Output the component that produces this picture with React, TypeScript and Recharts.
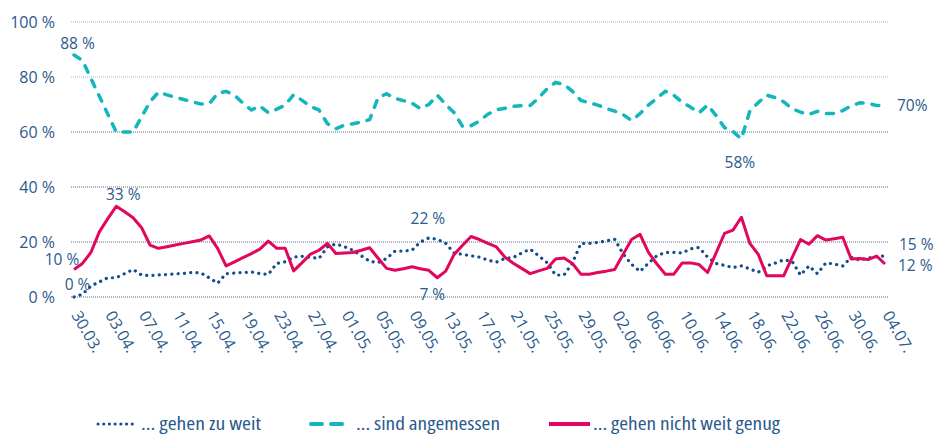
import React from 'react';
import { LineChart, Line, XAxis, YAxis, ReferenceLine, Legend, LabelList } from 'recharts';

const dates = [
  '30.03.', '31.03.',
  '01.04.', '02.04.', '03.04.', '04.04.', '05.04.', '06.04.', '07.04.', '08.04.', '09.04.', '10.04.',
  '11.04.', '12.04.', '13.04.', '14.04.', '15.04.', '16.04.', '17.04.', '18.04.', '19.04.', '20.04.',
  '21.04.', '22.04.', '23.04.', '24.04.', '25.04.', '26.04.', '27.04.', '28.04.', '29.04.', '30.04.',
  '01.05.', '02.05.', '03.05.', '04.05.', '05.05.', '06.05.', '07.05.', '08.05.', '09.05.', '10.05.',
  '11.05.', '12.05.', '13.05.', '14.05.', '15.05.', '16.05.', '17.05.', '18.05.', '19.05.', '20.05.',
  '21.05.', '22.05.', '23.05.', '24.05.', '25.05.', '26.05.', '27.05.', '28.05.', '29.05.', '30.05.', '31.05.',
  '01.06.', '02.06.', '03.06.', '04.06.', '05.06.', '06.06.', '07.06.', '08.06.', '09.06.', '10.06.',
  '11.06.', '12.06.', '13.06.', '14.06.', '15.06.', '16.06.', '17.06.', '18.06.', '19.06.', '20.06.',
  '21.06.', '22.06.', '23.06.', '24.06.', '25.06.', '26.06.', '27.06.', '28.06.', '29.06.', '30.06.',
  '01.07.', '02.07.', '03.07.', '04.07.',
];

// "... gehen zu weit"
const zuWeit = [
  0, 1, 4, 5.5, 7, 7, 8.5, 10, 8, 7.8,
  8, 8.2, 8.4, 8.6, 8.9, 8.8, 7, 5, 8.5, 8.7,
  8.9, 9.1, 8.5, 8.2, 12.2, 12.8, 14.5, 14.8, 14.4, 14,
  18.2, 19.3, 18.3, 17, 15, 13, 12.5, 14, 16.7, 16.7,
  17, 20, 21.5, 21, 19.5, 16, 15.5, 15, 14.5, 13.4,
  12.7, 14, 14.4, 16, 17.4, 15, 12.5, 8, 8, 12.3,
  19.5, 19.5, 19.8, 20.4, 21, 15.7, 11.9, 9.3, 12.3, 15,
  16.2, 16.2, 16, 17.5, 18, 14.5, 12.2, 11.5, 10.7, 11.3,
  10.2, 9, 11.3, 12.3, 13.5, 13, 8, 11.3, 8.5, 12.4,
  12, 11.3, 14.4, 13.4, 14.2, 14.6, 15,
];

// "... sind angemessen"
const angemessen = [
  88, 86, 79.5, 73, 66.5, 60, 60, 60, 65.5, 71,
  74.5, 73.5, 72.6, 71.8, 71, 70.2, 70.3, 74, 74.8, 73.4,
  70.5, 68, 69.5, 67, 68.3, 69.8, 73.6, 71.5, 69.3, 68,
  63, 61.2, 62.5, 63, 63.6, 64.5, 72.5, 73.9, 72.2, 71.4,
  70.5, 68.5, 70, 73.4, 70, 67, 62, 62.3, 64, 66.5,
  68.1, 68.6, 69.3, 69.6, 69.6, 72.4, 75.7, 78, 77.3, 74.8,
  71.5, 70.6, 69.8, 68.5, 67.6, 66.3, 64.2, 66.7, 69.8, 72.3,
  74.8, 73.4, 70.8, 69, 67, 69.8, 66, 61.6, 60.2, 57.5,
  67.6, 70.7, 73.4, 72.5, 71, 68.5, 67.2, 66.4, 67.5, 66.7,
  66.7, 67.8, 69.5, 70.6, 70.5, 69.6, 69.6,
];

// "... gehen nicht weit genug"
const nichtWeitGenug = [
  10, 12.2, 16.2, 23.7, 28.5, 33, 31, 28.8, 25.2, 18.9,
  17.7, 18.3, 18.9, 19.5, 20.1, 20.7, 22.2, 17.7, 11.3, 12.8,
  14.3, 15.8, 17.4, 20.3, 17.7, 17.7, 9.5, 12.5, 15.6, 17,
  19.5, 15.8, 16, 16.2, 17, 17.9, 14.1, 10.4, 9.7, 10.3,
  11, 10.3, 9.7, 7, 9.4, 15.5, 18.8, 22, 20.9, 19.5,
  18.2, 14.5, 12.3, 10.4, 8.5, 9.5, 10.4, 13.8, 14.2, 12.2,
  8.3, 8.3, 8.9, 9.4, 10, 15.5, 20.9, 22.8, 16.2, 12,
  8.3, 8.3, 12.4, 12.4, 11.8, 8.9, 16, 23.1, 24.3, 29,
  19.5, 15.5, 7.7, 7.7, 7.7, 14.3, 20.9, 19.2, 22.3, 20.7,
  21.2, 21.7, 13.8, 14, 13.6, 14.9, 12,
];

const yTicks = [0, 20, 40, 60, 80, 100];
const seriesNames = ['... gehen zu weit', '... sind angemessen', '... gehen nicht weit genug'];

const data = dates.map((d, i) => ({
  date: d,
  zuWeit: zuWeit[i],
  angemessen: angemessen[i],
  nichtWeit: nichtWeitGenug[i],
}));

const TEXT = '#2a5a8c';
const BLUE = '#134e8c';
const TEAL = '#14b6bd';
const RED = '#e2065c';
const FONT = "'Open Sans', 'Noto Sans', sans-serif";

type Ann = { dx: number; dy: number; anchor: 'start' | 'middle' | 'end'; space: boolean };
const annZuWeit: Record<number, Ann> = {
  0: { dx: 3.5, dy: -13, anchor: 'middle', space: true },
  42: { dx: -1, dy: -20, anchor: 'middle', space: true },
  96: { dx: 14, dy: -11.5, anchor: 'start', space: true },
};
const annAngemessen: Record<number, Ann> = {
  0: { dx: 3.5, dy: -12, anchor: 'middle', space: true },
  79: { dx: -1.5, dy: 23.5, anchor: 'middle', space: false },
  96: { dx: 12, dy: -1, anchor: 'start', space: false },
};
const annNichtWeit: Record<number, Ann> = {
  0: { dx: -12, dy: -11, anchor: 'middle', space: true },
  5: { dx: 7, dy: -12, anchor: 'middle', space: true },
  43: { dx: -5, dy: 16.5, anchor: 'middle', space: true },
  96: { dx: 13, dy: 1, anchor: 'start', space: true },
};

const makeLabel = (ann: Record<number, Ann>) => (props: any) => {
  const { x, y, index, value } = props;
  const a = ann[index];
  if (!a || x == null || y == null) return null;
  const txt = `${Math.round(Number(value))}${a.space ? ' %' : '%'}`;
  return (
    <text
      key={`l-${index}`}
      x={Number(x) + a.dx}
      y={Number(y) + a.dy}
      textAnchor={a.anchor}
      dominantBaseline="central"
      fill={TEXT}
      fontSize={15.5}
      fontFamily={FONT}
    >
      {txt}
    </text>
  );
};

const YTick = (props: any) => {
  const { y, payload } = props;
  return (
    <text x={55} y={y} textAnchor="end" dominantBaseline="central" fill={TEXT} fontSize={16} fontFamily={FONT}>
      {`${payload.value} %`}
    </text>
  );
};

const XTick = (props: any) => {
  const { x, payload } = props;
  return (
    <text
      transform={`translate(${x - 3},${315}) rotate(60)`}
      textAnchor="start"
      fill={TEXT}
      fontSize={16}
      fontFamily={FONT}
    >
      {payload.value}
    </text>
  );
};

const gridStroke = (v: number) => (v >= 80 ? '#aeb8c4' : '#56687e');

const legendItems = [
  { name: seriesNames[0], color: BLUE, kind: 'dot', x0: 98, x1: 136, tx: 141, tw: 120 },
  { name: seriesNames[1], color: TEAL, kind: 'dash', x0: 311, x1: 343, tx: 356, tw: 144 },
  { name: seriesNames[2], color: RED, kind: 'solid', x0: 549, x1: 590, tx: 593, tw: 187 },
];

const LegendContent = () => (
  <svg width={935} height={40} style={{ display: 'block', overflow: 'visible' }}>
    {legendItems.map((it) => (
      <g key={it.name}>
        {it.kind === 'dot' && (
          <line x1={it.x0} y1={30} x2={it.x1} y2={30} stroke={it.color} strokeWidth={3} strokeDasharray="0.1 5.6" strokeLinecap="round" />
        )}
        {it.kind === 'dash' && (
          <line x1={it.x0} y1={30} x2={it.x1} y2={30} stroke={it.color} strokeWidth={4} strokeDasharray="11 9" strokeLinecap="round" />
        )}
        {it.kind === 'solid' && (
          <line x1={it.x0} y1={30} x2={it.x1} y2={30} stroke={it.color} strokeWidth={4} />
        )}
        <text
          x={it.tx}
          y={29}
          dominantBaseline="central"
          fill={TEXT}
          fontSize={18}
          fontFamily={FONT}
          textLength={it.tw}
          lengthAdjust="spacingAndGlyphs"
          style={{ fontStretch: 'condensed' }}
        >
          {it.name}
        </text>
      </g>
    ))}
  </svg>
);

export default function App() {
  return (
    <div style={{ position: 'absolute', left: 0, top: 0, width: 935, height: 434, background: '#fff' }}>
      <LineChart width={935} height={434} data={data} margin={{ top: 22, right: 47, bottom: 0, left: 0 }}>
        {yTicks.map((v) => (
          <ReferenceLine key={v} y={v} stroke={gridStroke(v)} strokeWidth={1} strokeDasharray="1 1" ifOverflow="visible" />
        ))}
        <XAxis
          dataKey="date"
          interval={3}
          axisLine={false}
          tickLine={false}
          padding={{ left: 3, right: 3 }}
          height={97}
          tick={<XTick />}
        />
        <YAxis
          domain={[0, 100]}
          ticks={yTicks}
          width={71}
          axisLine={false}
          tickLine={false}
          tick={<YTick />}
        />
        <Legend verticalAlign="bottom" height={40} wrapperStyle={{ left: 0, bottom: 0, width: 935 }} content={<LegendContent />} />
        <Line
          type="linear"
          dataKey="angemessen"
          name={seriesNames[1]}
          stroke={TEAL}
          strokeWidth={3.5}
          strokeDasharray="7 9"
          strokeLinecap="round"
          dot={false}
          isAnimationActive={false}
        >
          <LabelList dataKey="angemessen" content={makeLabel(annAngemessen)} />
        </Line>
        <Line
          type="linear"
          dataKey="zuWeit"
          name={seriesNames[0]}
          stroke={BLUE}
          strokeWidth={3.2}
          strokeDasharray="0.1 6.2"
          strokeLinecap="round"
          dot={false}
          isAnimationActive={false}
        >
          <LabelList dataKey="zuWeit" content={makeLabel(annZuWeit)} />
        </Line>
        <Line
          type="linear"
          dataKey="nichtWeit"
          name={seriesNames[2]}
          stroke={RED}
          strokeWidth={3}
          strokeLinejoin="round"
          dot={false}
          isAnimationActive={false}
        >
          <LabelList dataKey="nichtWeit" content={makeLabel(annNichtWeit)} />
        </Line>
      </LineChart>
    </div>
  );
}
